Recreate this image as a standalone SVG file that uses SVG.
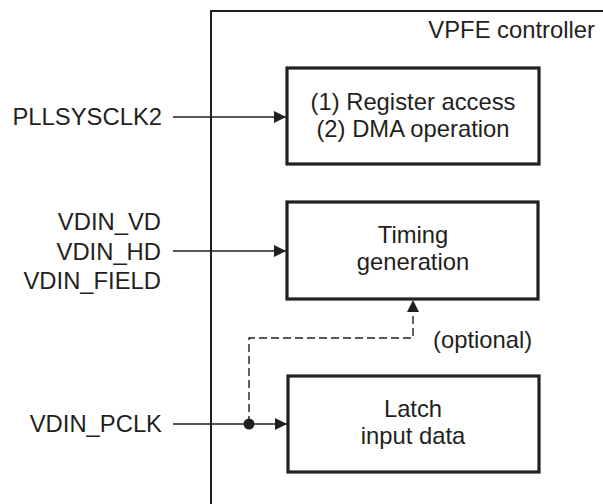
<svg xmlns="http://www.w3.org/2000/svg" width="603" height="504" viewBox="0 0 603 504">
<style>
text{font-family:"Liberation Sans",Arial,sans-serif;font-size:23.8px;fill:#231f20}
.frame{fill:none;stroke:#231f20;stroke-width:2}
.box{fill:#fff;stroke:#231f20;stroke-width:3.2}
.wire{fill:none;stroke:#231f20;stroke-width:1.4}
.dash{stroke-dasharray:8 4}
.c{text-anchor:middle}.r{text-anchor:end}
</style>
<defs>
<marker id="ah" viewBox="0 0 12 12" refX="12" refY="6" markerWidth="12" markerHeight="12" markerUnits="userSpaceOnUse" orient="auto">
<path d="M0,0 L12,6 L0,12 Z" fill="#231f20"/>
</marker>
</defs>
<g id="vpfe-controller">
<path class="frame" d="M211,504 V11 H604"/>
<text class="r" x="595" y="38">VPFE controller</text>
</g>
<g id="register-dma">
<rect class="box" x="287" y="68" width="252" height="96"/>
<text class="c" x="413" y="110">(1) Register access</text>
<text class="c" x="413" y="137">(2) DMA operation</text>
</g>
<g id="timing-generation">
<rect class="box" x="287" y="202" width="251" height="97"/>
<text class="c" x="413" y="243">Timing</text>
<text class="c" x="413" y="270">generation</text>
</g>
<g id="latch-input">
<rect class="box" x="288" y="376" width="251" height="96"/>
<text class="c" x="413" y="417">Latch</text>
<text class="c" x="413" y="444">input data</text>
</g>
<g id="inputs">
<text class="r" x="162" y="125">PLLSYSCLK2</text>
<text class="r" x="161" y="230">VDIN_VD</text>
<text class="r" x="161" y="260">VDIN_HD</text>
<text class="r" x="161" y="289">VDIN_FIELD</text>
<text class="r" x="162" y="432">VDIN_PCLK</text>
<text x="433" y="348">(optional)</text>
</g>
<g id="connectors">
<path class="wire" d="M173,117 H286" marker-end="url(#ah)"/>
<path class="wire" d="M173,251 H286" marker-end="url(#ah)"/>
<path class="wire" d="M173,424 H287" marker-end="url(#ah)"/>
<path class="wire dash" d="M249,424 V338 H413 V300" marker-end="url(#ah)"/>
<circle cx="249" cy="424" r="5.5" fill="#231f20"/>
</g>
</svg>
